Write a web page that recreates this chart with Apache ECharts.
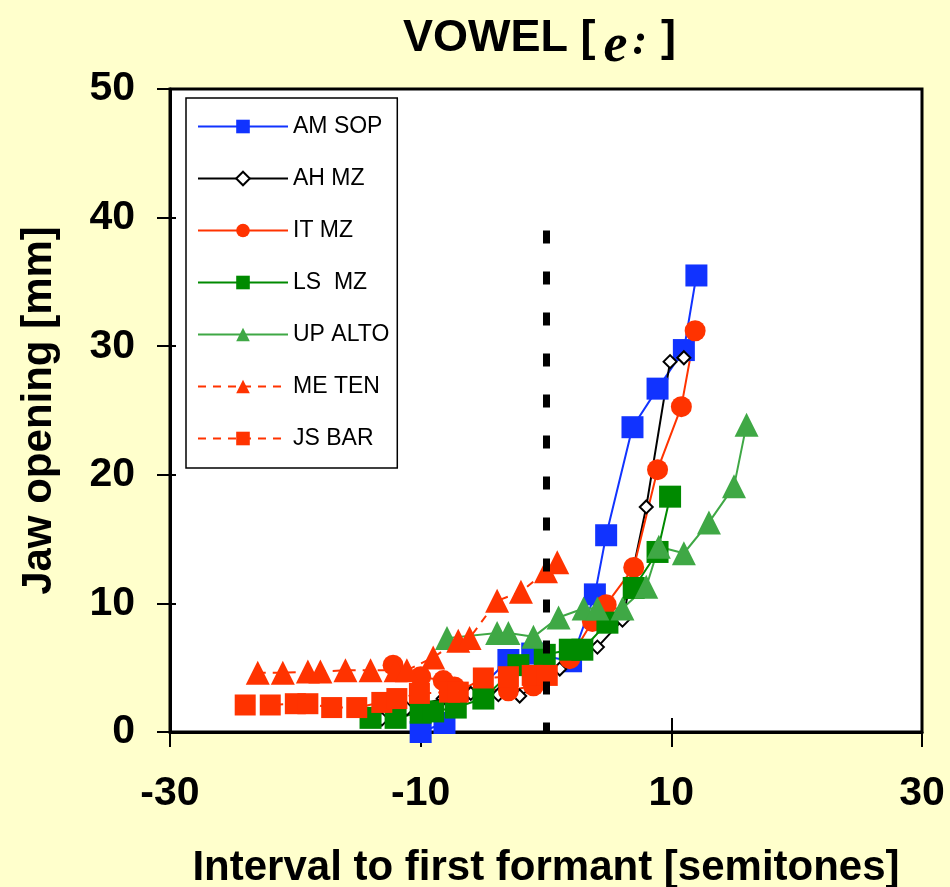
<!DOCTYPE html>
<html>
<head>
<meta charset="utf-8">
<script src="https://cdn.jsdelivr.net/npm/echarts@6/dist/echarts.min.js"></script>
<style>
  html, body { margin: 0; padding: 0; background: #FFFFCC; }
  #chart { width: 950px; height: 887px; }
</style>
</head>
<body>
<div id="chart"></div>
<script>
// Jaw opening versus the interval between F0 and the first formant, vowel [e:]
const seriesNames = ['AM SOP', 'AH MZ', 'IT MZ', 'LS  MZ', 'UP ALTO', 'ME TEN', 'JS BAR'];

const amSopX = [-12.3, -10.0, -8.1, -3.0, -1.1, 2.0, 3.9, 4.8, 6.9, 8.9, 11.0, 12.0];
const amSopY = [-0.4, 0.0, 0.7, 5.6, 6.1, 5.5, 10.7, 15.3, 23.7, 26.7, 29.7, 35.5];

const ahMzX = [-13.1, -11.1, -8.2, -6.0, -3.8, -2.1, 1.1, 4.1, 6.1, 8.0, 9.9, 11.0];
const ahMzY = [1.0, 1.8, 2.6, 3.0, 2.9, 2.8, 4.9, 6.6, 8.7, 17.5, 28.8, 29.1];

const itMzX = [-12.2, -10.0, -8.2, -7.3, -3.0, -1.0, 1.9, 3.7, 4.8, 7.0, 8.9, 10.8, 11.9];
const itMzY = [5.2, 4.3, 4.0, 3.5, 3.2, 3.6, 5.7, 8.6, 9.9, 12.8, 20.4, 25.3, 31.2];

const lsMzX = [-14.0, -12.0, -10.0, -9.0, -7.2, -5.0, -2.2, -0.1, 1.9, 2.9, 4.9, 7.0, 8.9, 9.9];
const lsMzY = [1.1, 1.1, 1.5, 1.6, 1.9, 2.6, 5.2, 6.0, 6.4, 6.4, 8.5, 11.2, 14.0, 18.3];

const upAltoX = [-7.9, -3.9, -3.0, -1.0, 1.0, 3.0, 4.1, 6.1, 8.0, 9.0, 11.0, 13.0, 15.0, 16.0];
const upAltoY = [7.3, 7.7, 7.7, 7.4, 8.9, 9.6, 9.6, 9.6, 11.3, 14.4, 13.9, 16.3, 19.1, 23.9];

const meTenX = [-23.0, -21.0, -19.0, -18.0, -16.0, -14.0, -12.0, -11.1, -9.0, -7.0, -6.1, -3.9, -2.0, 0.0, 0.9];
const meTenY = [4.6, 4.6, 4.7, 4.7, 4.8, 4.8, 4.8, 4.8, 5.8, 7.1, 7.3, 10.2, 10.9, 12.5, 13.2];

const jsBarX = [-24.0, -22.0, -20.0, -19.0, -17.1, -15.1, -13.1, -11.9, -10.1, -7.7, -7.0, -5.0, -3.0, -1.1, 0.1];
const jsBarY = [2.1, 2.1, 2.2, 2.2, 1.9, 1.9, 2.3, 2.6, 3.0, 3.1, 3.1, 4.2, 4.3, 4.4, 4.4];

// Reference line at zero interval (F0 = F1)
const zeroLineX = 0;
const zeroLineTop = 39;

const xTicks = { min: -30, max: 30, step: 20 };
const yTicks = { min: 0, max: 50, step: 10 };

const FONT = 'Liberation Sans';
const RED = '#FF3300';

function pairs(xs, ys) {
  return xs.map((x, i) => [x, ys[i]]);
}

function lineSeries(name, xs, ys, color, symbol, size, extra) {
  return Object.assign({
    name: name,
    type: 'line',
    data: pairs(xs, ys),
    symbol: symbol,
    symbolSize: size,
    showAllSymbol: true,
    clip: true,
    lineStyle: { color: color, width: 2 },
    itemStyle: { color: color },
    emphasis: { disabled: true }
  }, extra || {});
}

const chart = echarts.init(document.getElementById('chart'), null, { renderer: 'canvas' });

const axisNameStyle = { fontSize: 42, fontWeight: 'bold', fontFamily: FONT, color: '#000' };
const axisLabelStyle = { fontSize: 41, fontWeight: 'bold', fontFamily: FONT, color: '#000' };

chart.setOption({
  backgroundColor: '#FFFFCC',
  animation: false,
  title: {
    text: '{a|VOWEL [}{e|e}{c|:}{a|]}',
    left: 403,
    top: 4,
    padding: 0,
    textStyle: {
      rich: {
        a: { fontSize: 45, fontWeight: 'bold', fontFamily: FONT, color: '#000' },
        e: { fontSize: 54, fontStyle: 'italic', fontWeight: 'bold', fontFamily: 'Liberation Serif', color: '#000', padding: [16, 0, 0, 8] },
        c: { fontSize: 44, fontStyle: 'italic', fontWeight: 'bold', fontFamily: 'Liberation Serif', color: '#000', padding: [8, 14, 0, 5] }
      }
    }
  },
  legend: {
    orient: 'vertical',
    left: 186,
    top: 98,
    data: seriesNames,
    backgroundColor: '#fff',
    borderColor: '#000',
    borderWidth: 1.5,
    padding: [17, 8, 18, 11],
    itemWidth: 90,
    itemHeight: 17,
    itemGap: 29,
    selectedMode: false,
    textStyle: { fontSize: 23, fontFamily: FONT, color: '#000' }
  },
  grid: {
    left: 170, top: 89, width: 752, height: 643,
    outerBoundsMode: 'none',
    containLabel: false,
    show: true, backgroundColor: '#fff', borderColor: '#000', borderWidth: 3
  },
  xAxis: [
    {
      type: 'value', position: 'bottom',
      min: xTicks.min, max: xTicks.max, interval: xTicks.step,
      axisLine: { show: true, onZero: false, lineStyle: { color: '#000', width: 3 } },
      axisTick: { show: true, length: 15, lineStyle: { color: '#000', width: 2 } },
      axisLabel: Object.assign({ margin: 41 }, axisLabelStyle),
      splitLine: { show: false },
      name: 'Interval to first formant [semitones]',
      nameLocation: 'middle', nameGap: 115,
      nameTextStyle: axisNameStyle
    },
    {
      type: 'value', position: 'bottom',
      min: xTicks.min, max: xTicks.max, interval: xTicks.step,
      axisLine: { show: false, onZero: false },
      axisTick: { show: true, inside: true, length: 14, lineStyle: { color: '#000', width: 2 } },
      axisLabel: { show: false },
      splitLine: { show: false }
    }
  ],
  yAxis: [
    {
      type: 'value', position: 'left',
      min: yTicks.min, max: yTicks.max, interval: yTicks.step,
      axisLine: { show: true, onZero: false, lineStyle: { color: '#000', width: 3 } },
      axisTick: { show: true, length: 13, lineStyle: { color: '#000', width: 2 } },
      axisLabel: Object.assign({ margin: 35 }, axisLabelStyle),
      splitLine: { show: false },
      name: 'Jaw opening [mm]',
      nameLocation: 'middle', nameGap: 110, nameRotate: 90,
      nameTextStyle: axisNameStyle
    },
    {
      type: 'value', position: 'left',
      min: yTicks.min, max: yTicks.max, interval: yTicks.step,
      axisLine: { show: false, onZero: false },
      axisTick: { show: true, inside: true, length: 6, lineStyle: { color: '#000', width: 2 } },
      axisLabel: { show: false },
      splitLine: { show: false }
    }
  ],
  series: [
    {
      name: 'zero',
      type: 'line',
      data: [],
      z: 1,
      silent: true,
      markLine: {
        silent: true,
        symbol: 'none',
        animation: false,
        label: { show: false },
        lineStyle: { color: '#000', width: 7, type: [13, 28], cap: 'butt' },
        emphasis: { disabled: true },
        data: [[{ coord: [zeroLineX, zeroLineTop] }, { coord: [zeroLineX, 0] }]]
      }
    },
    lineSeries(seriesNames[0], amSopX, amSopY, '#1133FF', 'rect', 22),
    lineSeries(seriesNames[1], ahMzX, ahMzY, '#000000', 'diamond', 13, {
      itemStyle: { color: '#fff', borderColor: '#000', borderWidth: 2 }
    }),
    lineSeries(seriesNames[2], itMzX, itMzY, RED, 'circle', 21),
    lineSeries(seriesNames[3], lsMzX, lsMzY, '#008A00', 'rect', 22),
    lineSeries(seriesNames[4], upAltoX, upAltoY, '#3FA845', 'triangle', 24),
    lineSeries(seriesNames[5], meTenX, meTenY, RED, 'triangle', 24, {
      lineStyle: { color: RED, width: 2, type: [8, 7] }
    }),
    lineSeries(seriesNames[6], jsBarX, jsBarY, RED, 'rect', 21, {
      lineStyle: { color: RED, width: 2, type: [8, 7] }
    })
  ]
});
</script>
</body>
</html>
